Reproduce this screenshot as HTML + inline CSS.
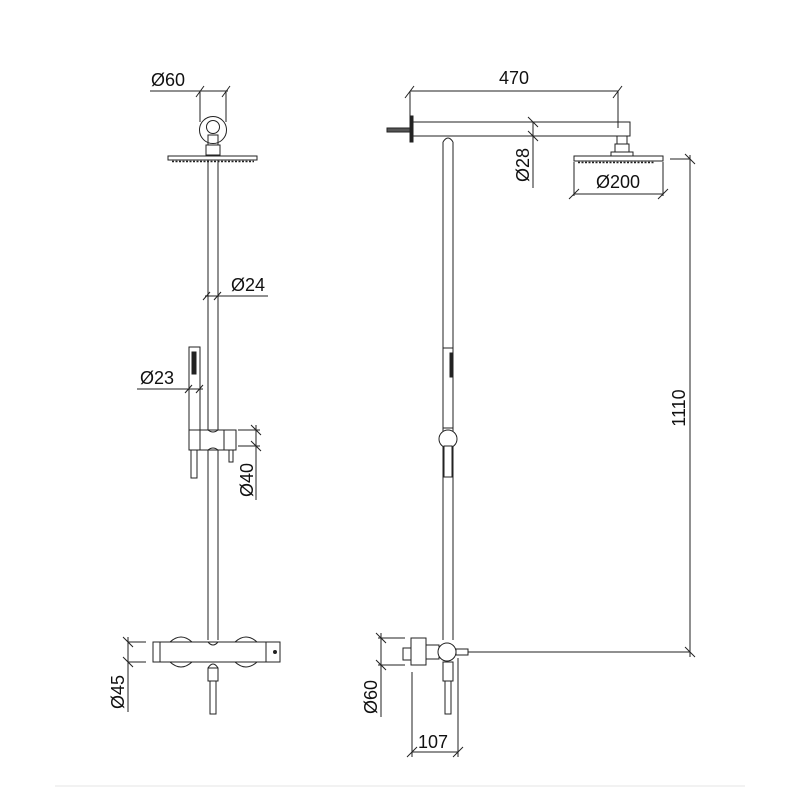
<!DOCTYPE html>
<html><head><style>html,body{margin:0;padding:0;background:#fff}svg{display:block}</style></head>
<body>
<svg width="800" height="800" viewBox="0 0 800 800" xmlns="http://www.w3.org/2000/svg" font-family="Liberation Sans, sans-serif" font-size="18" fill="none" stroke="#222" stroke-width="1">
<!-- LEFT VIEW -->
<line x1="150" y1="91" x2="228" y2="91"/>
<line x1="200" y1="91" x2="200" y2="122"/><line x1="226" y1="91" x2="226" y2="122"/>
<line x1="196" y1="97" x2="204" y2="86"/><line x1="222" y1="97" x2="230" y2="86"/>
<text x="151" y="86" fill="#111" stroke="none">Ø60</text>
<circle cx="213" cy="130" r="13.5"/>
<circle cx="213" cy="127" r="6.5"/>
<rect x="208" y="135" width="10" height="10"/>
<rect x="206" y="145" width="14" height="10"/>
<rect x="168" y="156" width="89" height="4"/>
<line x1="172" y1="161.5" x2="254" y2="161.5" stroke-dasharray="2,1.5" stroke-width="1.5"/>
<line x1="208" y1="160" x2="208" y2="640"/><line x1="218" y1="160" x2="218" y2="640"/>
<!-- Ø24 -->
<line x1="205" y1="296" x2="268" y2="296"/>
<line x1="203" y1="300" x2="210" y2="292"/><line x1="214" y1="300" x2="221" y2="292"/>
<text x="231" y="291" fill="#111" stroke="none">Ø24</text>
<!-- hand shower -->
<rect x="189" y="347" width="11" height="83"/>
<rect x="192" y="352" width="4" height="22" fill="#222"/>
<line x1="137" y1="389" x2="203" y2="389"/>
<line x1="185" y1="393" x2="192" y2="385"/><line x1="196" y1="393" x2="203" y2="385"/>
<text x="140" y="384" fill="#111" stroke="none">Ø23</text>
<rect x="189" y="430" width="47" height="20" fill="#fff"/>
<line x1="200" y1="430" x2="200" y2="450"/><line x1="224" y1="430" x2="224" y2="450"/>
<path d="M208 430 Q213 434 218 430 M208 450 Q213 446 218 450"/>
<rect x="191" y="450" width="6" height="28"/>
<rect x="229" y="450" width="4" height="12"/>
<line x1="238" y1="430" x2="260" y2="430"/><line x1="238" y1="446" x2="260" y2="446"/>
<line x1="256" y1="425" x2="256" y2="500"/>
<line x1="251" y1="425" x2="261" y2="435"/><line x1="251" y1="441" x2="261" y2="451"/>
<text transform="translate(253,480) rotate(-90)" text-anchor="middle" fill="#111" stroke="none">Ø40</text>
<!-- mixer -->
<path d="M170 642 Q181 632 192 642 M235 642 Q246 632 257 642 M170 662 Q181 672 192 662 M235 662 Q246 672 257 662"/>
<path d="M208 642 Q213 648 218 642"/>
<rect x="153" y="642" width="127" height="20" fill="none"/>
<line x1="160" y1="642" x2="160" y2="662"/>
<line x1="266" y1="642" x2="266" y2="662"/>
<circle cx="275" cy="652" r="1.5" fill="#222"/>
<path d="M208 668 Q213 660 218 668"/>
<rect x="208" y="668" width="10" height="13"/>
<rect x="210" y="681" width="6" height="33"/>
<line x1="128" y1="642" x2="146" y2="642"/><line x1="128" y1="662" x2="146" y2="662"/>
<line x1="128" y1="637" x2="128" y2="712"/>
<line x1="123" y1="637" x2="133" y2="647"/><line x1="123" y1="657" x2="133" y2="667"/>
<text transform="translate(124,692) rotate(-90)" text-anchor="middle" fill="#111" stroke="none">Ø45</text>
<!-- RIGHT VIEW -->
<line x1="410" y1="91" x2="618" y2="91"/>
<line x1="410" y1="91" x2="410" y2="120"/><line x1="618" y1="91" x2="618" y2="128"/>
<line x1="405" y1="98" x2="414" y2="86"/><line x1="613" y1="98" x2="622" y2="86"/>
<text x="499" y="84" fill="#111" stroke="none">470</text>
<rect x="387" y="128" width="23" height="4" fill="#555"/>
<rect x="410" y="116" width="3" height="26" fill="#222"/>
<rect x="413" y="122" width="217" height="14"/>
<path d="M443 142 Q448 134 453 142"/>
<line x1="443" y1="142" x2="443" y2="640"/><line x1="453" y1="142" x2="453" y2="640"/>
<line x1="533" y1="122" x2="533" y2="188"/>
<line x1="528" y1="117" x2="538" y2="127"/><line x1="528" y1="131" x2="538" y2="141"/>
<text transform="translate(529,165) rotate(-90)" text-anchor="middle" fill="#111" stroke="none">Ø28</text>
<rect x="617" y="136" width="10" height="8"/>
<rect x="615" y="144" width="14" height="8"/>
<rect x="611" y="152" width="22" height="4"/>
<rect x="574" y="156" width="89" height="5"/>
<line x1="578" y1="162.5" x2="655" y2="162.5" stroke-dasharray="2,1.5" stroke-width="1.5"/>
<line x1="574" y1="162" x2="574" y2="196"/><line x1="663" y1="162" x2="663" y2="196"/>
<line x1="574" y1="194" x2="663" y2="194"/>
<line x1="569" y1="199" x2="579" y2="189"/><line x1="658" y1="199" x2="668" y2="189"/>
<text x="596" y="188" fill="#111" stroke="none">Ø200</text>
<!-- 1110 -->
<line x1="670" y1="159" x2="690" y2="159"/>
<line x1="690" y1="155" x2="690" y2="657"/>
<line x1="685" y1="154" x2="695" y2="164"/><line x1="685" y1="647" x2="695" y2="657"/>
<line x1="468" y1="652" x2="690" y2="652"/>
<text transform="translate(685,408) rotate(-90)" text-anchor="middle" fill="#111" stroke="none">1110</text>
<!-- right hand shower -->
<line x1="443" y1="348" x2="453" y2="348"/>
<rect x="450" y="353" width="3" height="24" fill="#222"/>
<line x1="443" y1="428" x2="453" y2="428"/>
<circle cx="448" cy="439" r="9" fill="#fff"/>
<rect x="444" y="446" width="8" height="31" fill="#fff"/>
<!-- right valve -->
<rect x="403" y="648" width="8" height="12"/>
<rect x="411" y="638" width="15" height="27" fill="#fff"/>
<rect x="426" y="645" width="13" height="14"/>
<rect x="456" y="649" width="12" height="6"/>
<circle cx="447" cy="652" r="9" fill="#fff"/>
<rect x="443" y="662" width="10" height="19"/>
<rect x="445" y="681" width="6" height="33"/>
<line x1="378" y1="638" x2="405" y2="638"/><line x1="378" y1="665" x2="405" y2="665"/>
<line x1="381" y1="633" x2="381" y2="717"/>
<line x1="376" y1="633" x2="386" y2="643"/><line x1="376" y1="660" x2="386" y2="670"/>
<text transform="translate(377,697) rotate(-90)" text-anchor="middle" fill="#111" stroke="none">Ø60</text>
<line x1="412" y1="672" x2="412" y2="757"/><line x1="458" y1="658" x2="458" y2="757"/>
<line x1="412" y1="752" x2="458" y2="752"/>
<line x1="407" y1="757" x2="417" y2="747"/><line x1="453" y1="757" x2="463" y2="747"/>
<text x="418" y="748" fill="#111" stroke="none">107</text>
<line x1="55" y1="786" x2="745" y2="786" stroke="#e4e4e4"/>
</svg>
</body></html>
